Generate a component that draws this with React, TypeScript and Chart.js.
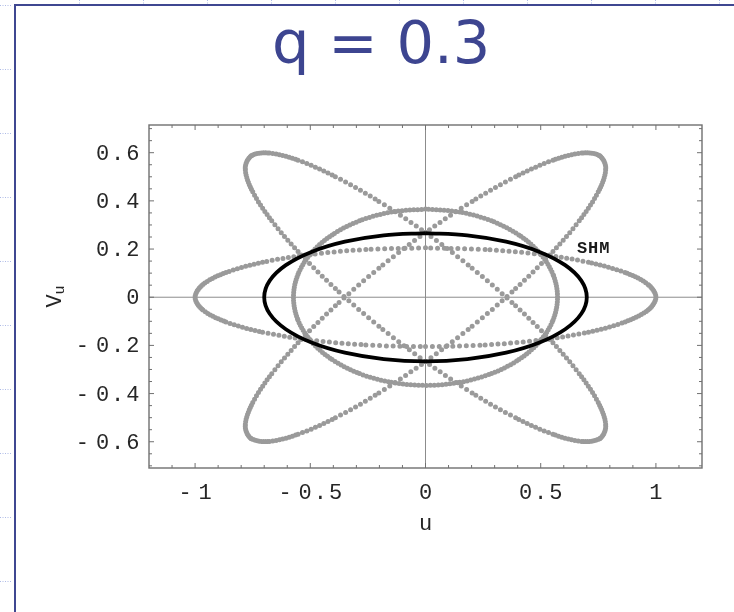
import React, { useEffect, useRef } from "react";
import { Chart, registerables } from "chart.js";

Chart.register(...registerables);

type Pt = [number, number];

const TITLE = "q = 0.3";
const X_TITLE = "u";
const Y_TITLE = "V";
const Y_TITLE_SUB = "u";
const SHM_TEXT = "SHM";
const SHM_ANCHOR: Pt = [0.73, 0.183];

const X_RANGE: Pt = [-1.2, 1.2];
const Y_RANGE: Pt = [-0.709, 0.715];
const X_TICKS = [-1, -0.5, 0, 0.5, 1];
const Y_TICKS = [-0.6, -0.4, -0.2, 0, 0.2, 0.4, 0.6];

// Simple harmonic motion ellipse, [u, v_u]
const SHM_ELLIPSE: Pt[] = [
  [0, 0.266], [-0.1812, 0.2569], [-0.35, 0.2304], [-0.495, 0.1881], [-0.6062, 0.133],
  [-0.6761, 0.0688], [-0.7, 0], [-0.6761, -0.0688], [-0.6062, -0.133], [-0.495, -0.1881],
  [-0.35, -0.2304], [-0.1812, -0.2569], [0, -0.266], [0.1812, -0.2569], [0.35, -0.2304],
  [0.495, -0.1881], [0.6062, -0.133], [0.6761, -0.0688], [0.7, 0], [0.6761, 0.0688],
  [0.6062, 0.133], [0.495, 0.1881], [0.35, 0.2304], [0.1812, 0.2569], [0, 0.266],
];

// Mathieu phase-space ellipses at four RF phases, [u, v_u]
const WIDE_ELLIPSE: Pt[] = [
  [0, 0.205], [-0.2588, 0.198], [-0.5, 0.1775], [-0.7071, 0.145], [-0.866, 0.1025],
  [-0.9659, 0.0531], [-1, 0], [-0.9659, -0.0531], [-0.866, -0.1025], [-0.7071, -0.145],
  [-0.5, -0.1775], [-0.2588, -0.198], [0, -0.205], [0.2588, -0.198], [0.5, -0.1775],
  [0.7071, -0.145], [0.866, -0.1025], [0.9659, -0.0531], [1, 0], [0.9659, 0.0531],
  [0.866, 0.1025], [0.7071, 0.145], [0.5, 0.1775], [0.2588, 0.198], [0, 0.205],
];

const ROUND_ELLIPSE: Pt[] = [
  [0, 0.366], [-0.1483, 0.3535], [-0.2865, 0.317], [-0.4052, 0.2588], [-0.4962, 0.183],
  [-0.5535, 0.0947], [-0.573, 0], [-0.5535, -0.0947], [-0.4962, -0.183], [-0.4052, -0.2588],
  [-0.2865, -0.317], [-0.1483, -0.3535], [0, -0.366], [0.1483, -0.3535], [0.2865, -0.317],
  [0.4052, -0.2588], [0.4962, -0.183], [0.5535, -0.0947], [0.573, 0], [0.5535, 0.0947],
  [0.4962, 0.183], [0.4052, 0.2588], [0.2865, 0.317], [0.1483, 0.3535], [0, 0.366],
];

const FALLING_ELLIPSE: Pt[] = [
  [0, -0.2683], [-0.2024, -0.1205], [-0.3911, 0.0357], [-0.5531, 0.1894], [-0.6774, 0.3301],
  [-0.7555, 0.4484], [-0.7822, 0.5361], [-0.7555, 0.5872], [-0.6774, 0.5985], [-0.5531, 0.5688],
  [-0.3911, 0.5005], [-0.2024, 0.3979], [0, 0.2683], [0.2024, 0.1205], [0.3911, -0.0357],
  [0.5531, -0.1894], [0.6774, -0.3301], [0.7555, -0.4484], [0.7822, -0.5361], [0.7555, -0.5872],
  [0.6774, -0.5985], [0.5531, -0.5688], [0.3911, -0.5005], [0.2024, -0.3979], [0, -0.2683],
];

const RISING_ELLIPSE: Pt[] = [
  [0, -0.2683], [0.2024, -0.1205], [0.3911, 0.0357], [0.5531, 0.1894], [0.6774, 0.3301],
  [0.7555, 0.4484], [0.7822, 0.5361], [0.7555, 0.5872], [0.6774, 0.5985], [0.5531, 0.5688],
  [0.3911, 0.5005], [0.2024, 0.3979], [0, 0.2683], [-0.2024, 0.1205], [-0.3911, -0.0357],
  [-0.5531, -0.1894], [-0.6774, -0.3301], [-0.7555, -0.4484], [-0.7822, -0.5361], [-0.7555, -0.5872],
  [-0.6774, -0.5985], [-0.5531, -0.5688], [-0.3911, -0.5005], [-0.2024, -0.3979], [0, -0.2683],
];

const GRAY = "#9a9a9a";
const FRAME = "#707070";
const INK = "#262626";
const TITLE_COLOR = "#3d4590";
const SLIDE_LINE = "#3f4791";
const GUIDE = "#aebbe6";
const TICK_FONT = '22px "Liberation Mono", "DejaVu Sans Mono", monospace';

// sampled points along each curve: sparse where the orbit moves fast
const DOTS_PER_STEP = 8.75;

const dottedSegment = {
  borderDash: (c: any) => {
    const len = Math.hypot(c.p1.x - c.p0.x, c.p1.y - c.p0.y);
    return [0, Math.max(len / DOTS_PER_STEP, 0.5)];
  },
};

const toXY = (pts: Pt[]) => pts.map(([x, y]) => ({ x, y }));

const grayCurve = (label: string, pts: Pt[]) => ({
  label,
  data: toXY(pts),
  borderColor: GRAY,
  borderWidth: 5,
  borderCapStyle: "round",
  borderJoinStyle: "round",
  tension: 0.34,
  pointRadius: 0,
  fill: false,
  segment: dottedSegment,
});

function setSpacing(ctx: any, v: string) {
  ctx.letterSpacing = v;
}

function drawSigned(ctx: CanvasRenderingContext2D, v: number, x: number, y: number, align: "right" | "center") {
  const num = String(Math.abs(v));
  const neg = v < 0;
  const nw = ctx.measureText(num).width;
  const mw = ctx.measureText("-").width;
  const gap = 5;
  let numRight: number;
  if (align === "right") {
    numRight = x;
  } else {
    const total = nw + (neg ? mw + gap : 0);
    numRight = x + total / 2;
  }
  ctx.textAlign = "right";
  ctx.fillText(num, numRight, y);
  if (neg) ctx.fillText("-", numRight - nw - gap, y);
}

const slidePlugin = {
  id: "slide",
  beforeDraw(chart: any) {
    const { ctx, width, height } = chart;
    ctx.save();
    ctx.fillStyle = "#ffffff";
    ctx.fillRect(0, 0, width, height);

    // guide marks along the slide edges
    ctx.strokeStyle = GUIDE;
    ctx.lineWidth = 1;
    ctx.setLineDash([1, 1.5]);
    for (let y = 5; y < height; y += 64) {
      ctx.beginPath();
      ctx.moveTo(0, y + 0.5);
      ctx.lineTo(11, y + 0.5);
      ctx.stroke();
    }
    for (let x = 79.5; x < width; x += 64) {
      ctx.beginPath();
      ctx.moveTo(x, 0);
      ctx.lineTo(x, 4);
      ctx.stroke();
    }
    ctx.setLineDash([]);

    // slide frame
    ctx.strokeStyle = SLIDE_LINE;
    ctx.lineWidth = 2;
    ctx.beginPath();
    ctx.moveTo(15, height);
    ctx.lineTo(15, 5);
    ctx.lineTo(width, 5);
    ctx.stroke();

    // title
    ctx.fillStyle = TITLE_COLOR;
    ctx.font = '59px "DejaVu Sans", sans-serif';
    ctx.textAlign = "left";
    ctx.textBaseline = "alphabetic";
    ctx.fillText(TITLE, 272, 63);
    ctx.restore();
  },
  beforeDatasetsDraw(chart: any) {
    const { ctx, chartArea: a, scales } = chart;
    const x0 = scales.x.getPixelForValue(0);
    const y0 = scales.y.getPixelForValue(0);
    ctx.save();
    ctx.strokeStyle = "#8c8c8c";
    ctx.lineWidth = 1;
    ctx.beginPath();
    ctx.moveTo(a.left, y0);
    ctx.lineTo(a.right, y0);
    ctx.moveTo(x0, a.top);
    ctx.lineTo(x0, a.bottom);
    ctx.stroke();
    ctx.restore();
  },
  afterDatasetsDraw(chart: any) {
    const { ctx, chartArea: a, scales } = chart;
    const sx = scales.x;
    const sy = scales.y;
    ctx.save();

    // frame with inward ticks on all four sides
    ctx.strokeStyle = FRAME;
    ctx.lineWidth = 1.4;
    ctx.strokeRect(a.left, a.top, a.right - a.left, a.bottom - a.top);
    ctx.lineWidth = 1;
    ctx.beginPath();
    for (let i = -11; i <= 11; i++) {
      const px = sx.getPixelForValue(i / 10);
      const len = i % 5 === 0 ? 5 : 3;
      ctx.moveTo(px, a.bottom);
      ctx.lineTo(px, a.bottom - len);
      ctx.moveTo(px, a.top);
      ctx.lineTo(px, a.top + len);
    }
    for (let i = -14; i <= 14; i++) {
      const py = sy.getPixelForValue(i * 0.05);
      const len = i % 4 === 0 ? 5 : 3;
      ctx.moveTo(a.left, py);
      ctx.lineTo(a.left + len, py);
      ctx.moveTo(a.right, py);
      ctx.lineTo(a.right - len, py);
    }
    ctx.stroke();

    // tick labels
    ctx.fillStyle = INK;
    ctx.font = TICK_FONT;
    ctx.textBaseline = "alphabetic";
    setSpacing(ctx, "2px");
    for (const v of Y_TICKS) {
      drawSigned(ctx, v, a.left - 7.5, sy.getPixelForValue(v) + 7, "right");
    }
    for (const v of X_TICKS) {
      drawSigned(ctx, v, sx.getPixelForValue(v) + 1, a.bottom + 31, "center");
    }
    setSpacing(ctx, "0px");

    // axis titles
    ctx.textAlign = "center";
    ctx.fillText(X_TITLE, sx.getPixelForValue(0), a.bottom + 62);

    ctx.save();
    ctx.translate(61, (a.top + a.bottom) / 2);
    ctx.rotate(-Math.PI / 2);
    ctx.font = TICK_FONT;
    const wV = ctx.measureText(Y_TITLE).width;
    ctx.font = '15px "Liberation Mono", monospace';
    const wu = ctx.measureText(Y_TITLE_SUB).width;
    const start = -(wV + wu) / 2;
    ctx.textAlign = "left";
    ctx.font = TICK_FONT;
    ctx.fillText(Y_TITLE, start, 0);
    ctx.font = '15px "Liberation Mono", monospace';
    ctx.fillText(Y_TITLE_SUB, start + wV, 3);
    ctx.restore();

    // curve label
    ctx.font = 'bold 17px "Liberation Mono", monospace';
    setSpacing(ctx, "1px");
    ctx.textAlign = "center";
    ctx.fillStyle = "#1a1a1a";
    ctx.fillText(SHM_TEXT, sx.getPixelForValue(SHM_ANCHOR[0]), sy.getPixelForValue(SHM_ANCHOR[1]));
    setSpacing(ctx, "0px");

    ctx.restore();
  },
};

export default function App() {
  const ref = useRef<HTMLCanvasElement | null>(null);

  useEffect(() => {
    if (!ref.current) return;
    const chart = new Chart(ref.current, {
      type: "line",
      data: {
        datasets: [
          {
            label: "SHM",
            data: toXY(SHM_ELLIPSE),
            borderColor: "#000000",
            borderWidth: 3.8,
            borderJoinStyle: "round",
            tension: 0.34,
            pointRadius: 0,
            fill: false,
          },
          grayCurve("phase 0", WIDE_ELLIPSE),
          grayCurve("phase 1/2", ROUND_ELLIPSE),
          grayCurve("phase 1/4", FALLING_ELLIPSE),
          grayCurve("phase 3/4", RISING_ELLIPSE),
        ] as any,
      },
      options: {
        responsive: false,
        animation: false,
        devicePixelRatio: 1,
        events: [],
        layout: { padding: { left: 0, right: 32, top: 125, bottom: 0 } },
        plugins: {
          legend: { display: false },
          tooltip: { enabled: false },
          title: { display: false },
        },
        scales: {
          x: {
            type: "linear",
            min: X_RANGE[0],
            max: X_RANGE[1],
            grid: { display: false },
            border: { display: false },
            ticks: { display: false },
            afterFit: (s: any) => {
              s.height = 144;
            },
          },
          y: {
            type: "linear",
            min: Y_RANGE[0],
            max: Y_RANGE[1],
            grid: { display: false },
            border: { display: false },
            ticks: { display: false },
            afterFit: (s: any) => {
              s.width = 149;
            },
          },
        },
      } as any,
      plugins: [slidePlugin],
    });
    return () => chart.destroy();
  }, []);

  return (
    <div style={{ position: "absolute", left: 0, top: 0, width: 734, height: 612 }}>
      <canvas ref={ref} width={734} height={612} style={{ display: "block" }} />
    </div>
  );
}
